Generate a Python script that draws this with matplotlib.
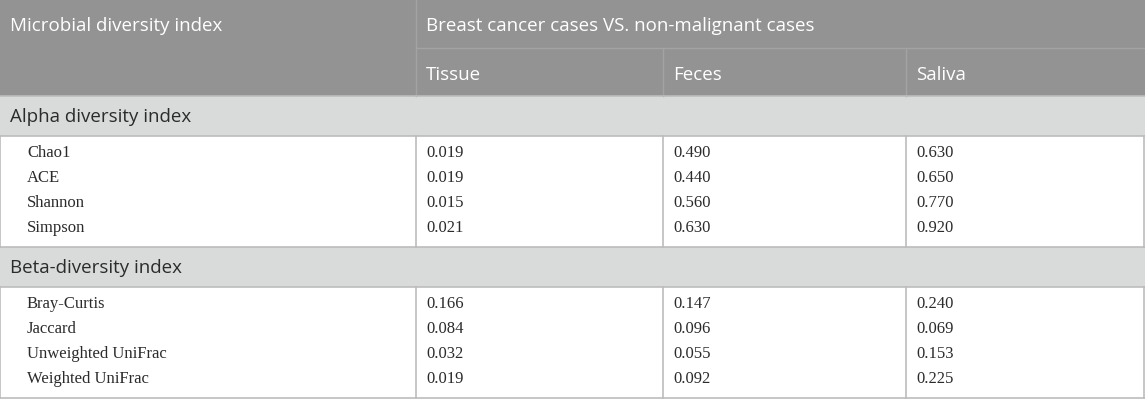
import matplotlib
matplotlib.use("Agg")
import matplotlib.pyplot as plt
from matplotlib.patches import Rectangle

# table content
columns = ["Tissue", "Feces", "Saliva"]
alpha_labels = ["Chao1", "ACE", "Shannon", "Simpson"]
alpha_tissue = [0.019, 0.019, 0.015, 0.021]
alpha_feces = [0.490, 0.440, 0.560, 0.630]
alpha_saliva = [0.630, 0.650, 0.770, 0.920]
beta_labels = ["Bray-Curtis", "Jaccard", "Unweighted UniFrac", "Weighted UniFrac"]
beta_tissue = [0.166, 0.084, 0.032, 0.019]
beta_feces = [0.147, 0.096, 0.055, 0.092]
beta_saliva = [0.240, 0.069, 0.153, 0.225]

W, H = 1145, 400
fig = plt.figure(figsize=(W / 100, H / 100), dpi=100)
ax = fig.add_axes([0, 0, 1, 1])
ax.set_xlim(0, W)
ax.set_ylim(H, 0)
ax.axis("off")

head_bg = "#939393"
sect_bg = "#d9dbdb"
line_c = "#bcbcbc"
head_line = "#a3a3a3"
txt = "#2b2b2b"
sans = "Open Sans"
serif = "Liberation Serif"
fs_sans = 13.5
fs_serif = 12

col_x = [0, 416, 663, 906, W - 1]
pad = 10

# header block
ax.add_patch(Rectangle((0, 0), W, 96, color=head_bg, lw=0))
ax.plot([416, W], [48, 48], color=head_line, lw=1)
ax.plot([416, 416], [0, 96], color=head_line, lw=1)
for x in col_x[2:4]:
    ax.plot([x, x], [48, 96], color=head_line, lw=1)
ax.text(pad, 31, "Microbial diversity index", fontsize=fs_sans, family=sans,
        color="white", va="baseline")
ax.text(416 + pad, 31, "Breast cancer cases VS. non-malignant cases",
        fontsize=fs_sans, family=sans, color="white", va="baseline")
for x, name in zip(col_x[1:4], columns):
    ax.text(x + pad, 80, name, fontsize=fs_sans, family=sans, color="white",
            va="baseline")


def section(y0, title, labels, tissue, feces, saliva):
    ax.add_patch(Rectangle((0, y0), W, 40, color=sect_bg, lw=0))
    ax.plot([0, W], [y0, y0], color=line_c, lw=1.2)
    ax.plot([0, W], [y0 + 40, y0 + 40], color=line_c, lw=1.2)
    ax.text(pad, y0 + 26, title, fontsize=fs_sans, family=sans, color=txt,
            va="baseline")
    top = y0 + 40
    bottom = top + 111
    for x in col_x:
        ax.plot([x, x], [top, bottom], color=line_c, lw=1.2)
    for i, lab in enumerate(labels):
        y = top + 21 + 25 * i
        ax.text(27, y, lab, fontsize=fs_serif, family=serif, color=txt,
                va="baseline")
        for x, v in zip(col_x[1:4], (tissue[i], feces[i], saliva[i])):
            ax.text(x + pad, y, f"{v:.3f}", fontsize=fs_serif, family=serif,
                    color=txt, va="baseline")
    return bottom


end = section(96, "Alpha diversity index", alpha_labels,
              alpha_tissue, alpha_feces, alpha_saliva)
end = section(end, "Beta-diversity index", beta_labels,
              beta_tissue, beta_feces, beta_saliva)
ax.plot([0, W], [end, end], color=line_c, lw=1.2)

fig.savefig("out.png", dpi=100)
